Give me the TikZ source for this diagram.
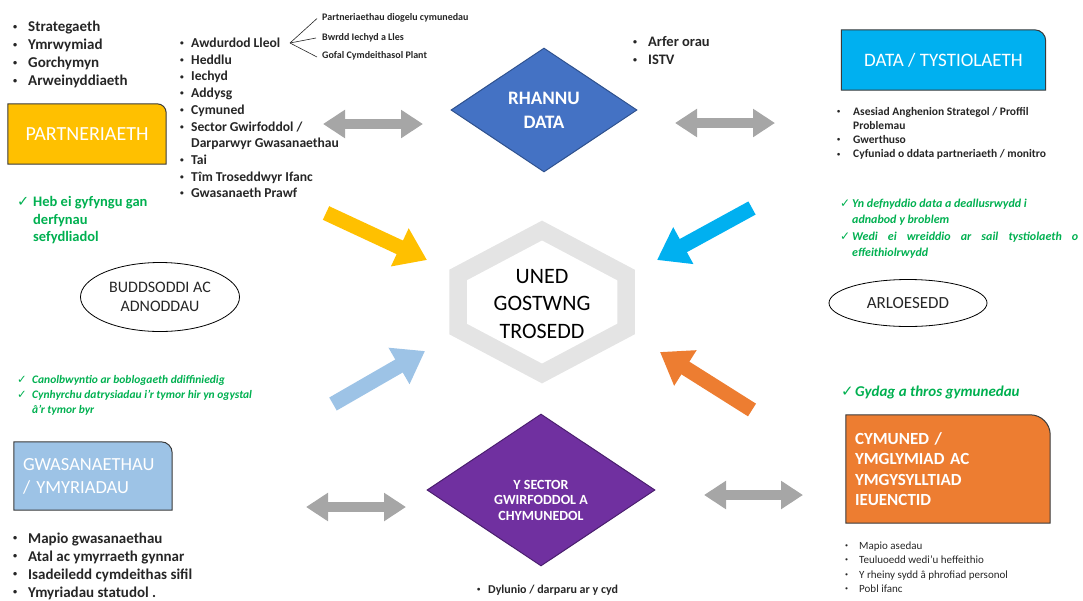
\documentclass[tikz,border=0pt]{standalone}
\usepackage{fontspec}
\setmainfont{Carlito}
\newfontfamily\symfont{DejaVu Sans}
\usetikzlibrary{arrows.meta,shapes.geometric,backgrounds}

\definecolor{partyellow}{HTML}{FFC000}
\definecolor{datablue}{HTML}{00B0F0}
\definecolor{servblue}{HTML}{9DC3E6}
\definecolor{commorange}{HTML}{ED7D31}
\definecolor{shareblue}{HTML}{4472C4}
\definecolor{shareedge}{HTML}{2F528F}
\definecolor{volpurple}{HTML}{7030A0}
\definecolor{voledge}{HTML}{4B1F6F}
\definecolor{tickgreen}{HTML}{00B050}
\definecolor{linkgrey}{HTML}{A6A6A6}
\definecolor{hexgrey}{HTML}{E4E4E4}
\definecolor{textgrey}{HTML}{262626}
\definecolor{boxedge}{HTML}{3A3A3A}

\newcommand{\itm}[1][15pt]{\makebox[#1][l]{\raisebox{0.14em}{\scalebox{0.55}{\textbullet}}}}
\newcommand{\tck}[1][15pt]{\makebox[#1][l]{\symfont\char"2713}}
\newcommand{\tagshape}[3]{%
  \filldraw[draw=boxedge, line width=1pt, fill=#2] (#1.south west) -- (#1.north west)
    -- ([xshift=-#3]#1.north east) arc[start angle=90, end angle=0, radius=#3]
    -- (#1.south east) -- cycle;}

\tikzset{
  list/.style={anchor=base west, align=left, inner sep=0pt, text=textgrey},
  biglist/.style={list, font=\bfseries\fontsize{15}{18}\selectfont},
  midlist/.style={list, font=\bfseries\fontsize{13.6}{16.7}\selectfont},
  tinytext/.style={list, font=\bfseries\fontsize{10}{12}\selectfont},
  note/.style={list, text=tickgreen},
  tagbox/.style={inner sep=0pt, text=white},
  choice/.style={diamond, aspect=1.5, inner sep=0pt, line width=1pt},
  oval/.style={ellipse, draw=black, line width=0.8pt, inner sep=0pt, align=center, text=textgrey},
  push/.style={line width=15pt, -{Triangle[length=30pt, width=40pt]}},
  link/.style={linkgrey, line width=10pt, {Triangle[length=22pt, width=27pt]}-{Triangle[length=22pt, width=27pt]}},
  hexring/.style={hexgrey, line width=17.5pt, line join=miter}
}

\begin{document}
\begin{tikzpicture}[x=1pt,y=-1pt]
\useasboundingbox (0,0) rectangle (1083,600);

% lists are placed by the baseline of their last line
\node[biglist] (aims) at (13,85.5) {\itm Strategaeth\\\itm Ymrwymiad\\\itm Gorchymyn\\\itm Arweinyddiaeth};
\node[tagbox, minimum width=158pt, minimum height=60pt, font=\fontsize{20}{24}\selectfont] (part) at (87,134) {PARTNERIAETH};
\node[note, font=\bfseries\fontsize{14.5}{17.5}\selectfont] (partnote) at (17,241.5) {\tck[16pt]Heb ei gyfyngu gan\\\hspace*{16pt}derfynau\\\hspace*{16pt}sefydliadol};

\node[midlist] (partners) at (180,197.8) {\itm[11pt]Awdurdod Lleol\\\itm[11pt]Heddlu\\\itm[11pt]Iechyd\\\itm[11pt]Addysg\\\itm[11pt]Cymuned\\\itm[11pt]Sector Gwirfoddol /\\\hspace*{11pt}Darparwyr Gwasanaethau\\\itm[11pt]Tai\\\itm[11pt]Tîm Troseddwyr Ifanc\\\itm[11pt]Gwasanaeth Prawf};
\coordinate (fork) at (290,43);
\node[tinytext] (pcs) at (322,20.5) {Partneriaethau diogelu cymunedau};
\node[tinytext] (hwb) at (322,40) {Bwrdd Iechyd a Lles};
\node[tinytext] (csp) at (322,58) {Gofal Cymdeithasol Plant};
\draw[textgrey, line width=0.6pt] (fork) -- ([xshift=-5pt, yshift=2pt]pcs.base west);
\draw[textgrey, line width=0.6pt] (fork) -- ([xshift=-6pt, yshift=2pt]hwb.base west);
\draw[textgrey, line width=0.6pt] (fork) -- ([xshift=-5pt, yshift=1pt]csp.base west);

\node[choice, fill=shareblue, draw=shareedge, minimum width=186pt, minimum height=124pt, text=white, align=center, font=\bfseries\fontsize{19}{24}\selectfont] (share) at (544,110) {RHANNU\\DATA};
\node[list, font=\bfseries\fontsize{14.5}{18}\selectfont] (practice) at (633,64.5) {\itm Arfer orau\\\itm ISTV};

\node[tagbox, minimum width=204pt, minimum height=60pt, font=\fontsize{19}{23}\selectfont] (data) at (943.5,60) {DATA / TYSTIOLAETH};
\node[list, font=\bfseries\fontsize{11.5}{14.3}\selectfont] (datalist) at (837,157.9) {\itm[16pt]Asesiad Anghenion Strategol / Proffil\\\hspace*{16pt}Problemau\\\itm[16pt]Gwerthuso\\\itm[16pt]Cyfuniad o ddata partneriaeth / monitro};
\node[note, font=\bfseries\itshape\fontsize{12}{16.5}\selectfont] (datanote) at (840,256.5) {\tck[12pt]Yn defnyddio data a deallusrwydd i\\\hspace*{12pt}adnabod y broblem\\\tck[12pt]\makebox[226pt][s]{Wedi ei wreiddio ar sail tystiolaeth o}\\\hspace*{12pt}effeithiolrwydd};

\node[oval, minimum width=159pt, minimum height=69pt, font=\fontsize{16}{19.5}\selectfont] (invest) at (160,297) {BUDDSODDI AC\\ADNODDAU};
\node[oval, minimum width=158pt, minimum height=47pt, font=\fontsize{17}{20}\selectfont] (innov) at (908,303) {ARLOESEDD};

\draw[hexring, shift={(542,302)}] (0,-71.5) -- (84,-27) -- (84,27) -- (0,71.5) -- (-84,27) -- (-84,-27) -- cycle;
\node[align=center, text=black, font=\fontsize{22}{27.5}\selectfont] (unit) at (542,304) {UNED\\GOSTWNG\\TROSEDD};

\coordinate (yellowtail) at (326,213);
\coordinate (yellowtip) at (427,260);
\coordinate (cyantail) at (752,208);
\coordinate (cyantip) at (657,260);
\coordinate (paletail) at (333,404);
\coordinate (paletip) at (425,351);
\coordinate (orangetail) at (752,410);
\coordinate (orangetip) at (660,352);
\draw[push, partyellow] (yellowtail) -- (yellowtip);
\draw[push, datablue] (cyantail) -- (cyantip);
\draw[push, servblue] (paletail) -- (paletip);
\draw[push, commorange] (orangetail) -- (orangetip);

\node[note, font=\bfseries\itshape\fontsize{11.5}{15}\selectfont] (servnote) at (17,413) {\tck Canolbwyntio ar boblogaeth ddiffiniedig\\\tck Cynhyrchu datrysiadau i’r tymor hir yn ogystal\\\hspace*{15pt}â’r tymor byr};
\node[tagbox, minimum width=158pt, minimum height=68pt, text width=140pt, align=left, font=\fontsize{18.5}{23}\selectfont] (serv) at (93,476) {GWASANAETHAU\\/ YMYRIADAU};
\node[biglist] (servlist) at (13,597) {\itm Mapio gwasanaethau\\\itm Atal ac ymyrraeth gynnar\\\itm Isadeiledd cymdeithas sifil\\\itm Ymyriadau statudol .};

\node[choice, fill=volpurple, draw=voledge, minimum width=228pt, minimum height=152pt] (vol) at (541,490) {};
\node[align=center, text=white, font=\bfseries\fontsize{14}{15.5}\selectfont] (voltext) at (541,500) {Y SECTOR\\GWIRFODDOL A\\CHYMUNEDOL};
\node[list, font=\bfseries\fontsize{12}{14}\selectfont] (codesign) at (477,593) {\itm[11pt]Dylunio / darparu ar y cyd};

\node[note, font=\bfseries\itshape\fontsize{15}{18}\selectfont] (commnote) at (841,396) {\tck[14pt]Gydag a thros gymunedau};
\node[tagbox, minimum width=204pt, minimum height=108pt, text width=186pt, align=left, font=\bfseries\fontsize{17}{20.5}\selectfont] (comm) at (948,469) {CYMUNED /\\YMGLYMIAD AC\\YMGYSYLLTIAD\\IEUENCTID};
\node[list, font=\fontsize{11}{14.5}\selectfont] (commlist) at (845,592.5) {\itm[14pt]Mapio asedau\\\itm[14pt]Teuluoedd wedi’u heffeithio\\\itm[14pt]Y rheiny sydd â phrofiad personol\\\itm[14pt]Pobl ifanc};

\coordinate (linkaw) at (323,124);
\coordinate (linkae) at (423,124);
\coordinate (linkbw) at (675,123);
\coordinate (linkbe) at (775,123);
\coordinate (linkcw) at (306,507);
\coordinate (linkce) at (406,507);
\coordinate (linkdw) at (704,495);
\coordinate (linkde) at (803,495);
\draw[link] (linkaw) -- (linkae);
\draw[link] (linkbw) -- (linkbe);
\draw[link] (linkcw) -- (linkce);
\draw[link] (linkdw) -- (linkde);

\begin{scope}[on background layer]
\tagshape{part}{partyellow}{9pt}
\tagshape{data}{datablue}{11pt}
\tagshape{serv}{servblue}{11pt}
\tagshape{comm}{commorange}{20pt}
\end{scope}
\end{tikzpicture}
\end{document}
